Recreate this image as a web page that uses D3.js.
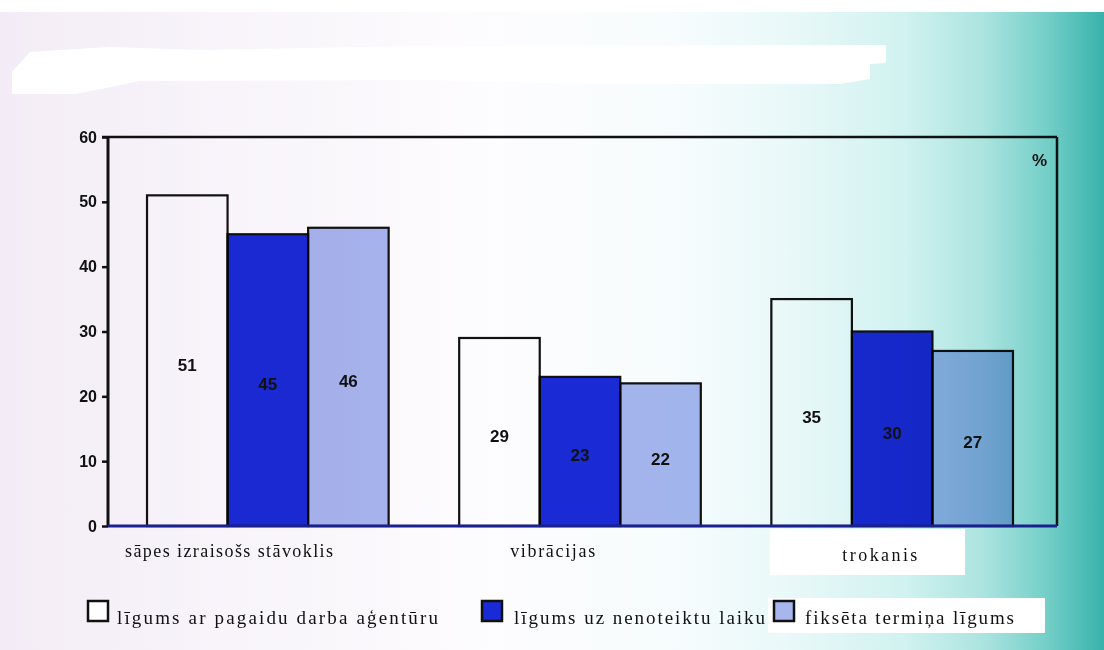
<!DOCTYPE html>
<html>
<head>
<meta charset="utf-8">
<script src="https://cdn.jsdelivr.net/npm/d3@7/dist/d3.min.js"></script>
<style>
  html, body { margin: 0; padding: 0; background: #fff; }
  svg { display: block; }
  .blend { mix-blend-mode: multiply; }
</style>
</head>
<body>
<div id="chart"></div>
<script>
// Categories, series and values
const categories = ["sāpes izraisošs stāvoklis", "vibrācijas", "trokanis"];
const seriesNames = ["līgums ar pagaidu darba aģentūru", "līgums uz nenoteiktu laiku", "fiksēta termiņa līgums"];
const agencyValues = [51, 29, 35];
const permanentValues = [45, 23, 30];
const fixedTermValues = [46, 22, 27];
const yTickValues = [0, 10, 20, 30, 40, 50, 60];
const unitLabel = "%";

const seriesValues = [agencyValues, permanentValues, fixedTermValues];
const seriesColors = ["#ffffff", "#1a2ad6", "#a8b6ee"];

const W = 1104, H = 650;
const plot = { left: 108, right: 1057, top: 137, bottom: 526 };

const svg = d3.select("#chart").append("svg")
  .attr("width", W).attr("height", H);

// Paper tint: pale lilac on the left fading to teal on the right
const defs = svg.append("defs");
const grad = defs.append("linearGradient").attr("id", "paper")
  .attr("x1", "0").attr("x2", "1").attr("y1", "0").attr("y2", "0");
[[0, "#f3ecf6"], [0.2, "#f8f4fa"], [0.45, "#fdfcfe"], [0.62, "#f6fcfd"],
 [0.72, "#e8f8f8"], [0.82, "#d0f2f0"], [0.89, "#ace4e0"], [0.95, "#72cec7"], [1, "#38b2ab"]]
  .forEach(([o, c]) => grad.append("stop").attr("offset", o).attr("stop-color", c));

svg.append("rect").attr("width", W).attr("height", H).attr("fill", "url(#paper)");
svg.append("rect").attr("width", W).attr("height", 12).attr("fill", "#ffffff");

// blank strip across the top
svg.append("path")
  .attr("fill", "#ffffff")
  .attr("d", "M12,72 L30,52 L60,50 L110,47 L200,50 L420,46 L886,45 L886,63 L870,64 L870,79 L840,84 L580,84 L430,80 L140,81 L76,94 L12,94 Z");

// white label patches on the right side
svg.append("rect").attr("x", 770).attr("y", 529).attr("width", 195).attr("height", 46).attr("fill", "#ffffff");
svg.append("rect").attr("x", 768).attr("y", 598).attr("width", 277).attr("height", 35).attr("fill", "#ffffff");

// Scales
const x0 = d3.scaleBand().domain(categories).range([108, 1052])
  .paddingInner(0.226).paddingOuter(0.125);
const x1 = d3.scaleBand().domain(d3.range(seriesNames.length)).range([0, x0.bandwidth()]);
const y = d3.scaleLinear().domain([0, 60]).range([plot.bottom, plot.top]);

// Bars
const groups = svg.append("g").selectAll("g")
  .data(categories).join("g")
  .attr("transform", d => `translate(${x0(d)},0)`);

groups.selectAll("rect")
  .data((c, ci) => seriesValues.map((vals, si) => ({ si, v: vals[ci] })))
  .join("rect")
  .attr("class", "blend")
  .attr("x", d => x1(d.si))
  .attr("y", d => y(d.v))
  .attr("width", x1.bandwidth())
  .attr("height", d => y(0) - y(d.v))
  .attr("fill", d => seriesColors[d.si])
  .attr("stroke", "#111")
  .attr("stroke-width", 2.2);

// Value labels inside bars
groups.selectAll("text")
  .data((c, ci) => seriesValues.map((vals, si) => ({ si, v: vals[ci] })))
  .join("text")
  .attr("x", d => x1(d.si) + x1.bandwidth() / 2)
  .attr("y", d => (y(d.v) + y(0)) / 2 + 10)
  .attr("text-anchor", "middle")
  .attr("font-family", "'Liberation Sans', Arial, sans-serif")
  .attr("font-weight", "bold")
  .attr("font-size", 17)
  .attr("fill", "#111")
  .text(d => d.v);

// Y axis
const yAxis = svg.append("g")
  .attr("transform", `translate(${plot.left},0)`)
  .call(d3.axisLeft(y).tickValues(yTickValues).tickSize(6).tickPadding(5));
yAxis.select(".domain").remove();
yAxis.selectAll(".tick line").attr("stroke", "#111").attr("stroke-width", 2.5);
yAxis.selectAll(".tick text")
  .attr("font-family", "'Liberation Sans', Arial, sans-serif")
  .attr("font-weight", "bold")
  .attr("font-size", 16)
  .attr("fill", "#111");

// Frame
svg.append("line").attr("x1", plot.left).attr("x2", plot.left)
  .attr("y1", plot.top).attr("y2", plot.bottom)
  .attr("stroke", "#111").attr("stroke-width", 3);
svg.append("line").attr("x1", plot.left - 6).attr("x2", plot.right)
  .attr("y1", plot.top).attr("y2", plot.top)
  .attr("stroke", "#111").attr("stroke-width", 2.5);
svg.append("line").attr("x1", plot.right).attr("x2", plot.right)
  .attr("y1", plot.top).attr("y2", plot.bottom)
  .attr("stroke", "#111").attr("stroke-width", 2.5);
svg.append("line").attr("x1", plot.left).attr("x2", plot.right)
  .attr("y1", plot.bottom).attr("y2", plot.bottom)
  .attr("stroke", "#1a2090").attr("stroke-width", 3);

svg.append("text")
  .attr("x", 1047).attr("y", 166)
  .attr("text-anchor", "end")
  .attr("font-family", "'Liberation Sans', Arial, sans-serif")
  .attr("font-weight", "bold")
  .attr("font-size", 17)
  .attr("fill", "#111")
  .text(unitLabel);

// Category labels below the axis
const catLayout = [
  { dx: -22, base: 557, len: 208 },
  { dx: 51, base: 557, len: 85 },
  { dx: 71, base: 561, len: 75 }
];
svg.append("g").selectAll("text")
  .data(categories).join("text")
  .attr("x", (d, i) => x0(d) + catLayout[i].dx)
  .attr("y", (d, i) => catLayout[i].base)
  .attr("textLength", (d, i) => catLayout[i].len)
  .attr("lengthAdjust", "spacing")
  .attr("font-family", "'Liberation Serif', 'DejaVu Serif', serif")
  .attr("font-size", 18)
  .attr("fill", "#111")
  .text(d => d);

// Legend
const legLayout = [
  { sx: 88, tx: 117, len: 321 },
  { sx: 482, tx: 514, len: 251 },
  { sx: 774, tx: 805, len: 209 }
];
const legend = svg.append("g").selectAll("g")
  .data(seriesNames).join("g");
legend.append("rect")
  .attr("x", (d, i) => legLayout[i].sx)
  .attr("y", 601)
  .attr("width", 20).attr("height", 20)
  .attr("fill", (d, i) => seriesColors[i])
  .attr("stroke", "#111")
  .attr("stroke-width", 2.5);
legend.append("text")
  .attr("x", (d, i) => legLayout[i].tx)
  .attr("y", 624)
  .attr("textLength", (d, i) => legLayout[i].len)
  .attr("lengthAdjust", "spacing")
  .attr("font-family", "'Liberation Serif', 'DejaVu Serif', serif")
  .attr("font-size", 19)
  .attr("fill", "#111")
  .text(d => d);
</script>
</body>
</html>
